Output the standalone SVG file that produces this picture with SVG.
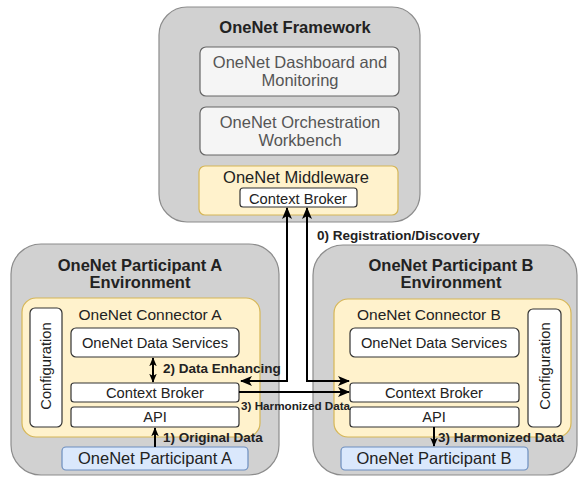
<svg xmlns="http://www.w3.org/2000/svg" width="581" height="479" viewBox="0 0 581 479">
<defs>
<style>
text{font-family:"Liberation Sans",Arial,sans-serif;fill:#222;text-anchor:middle}
.env{fill:#d1d1d1;stroke:#8c8c8c;stroke-width:1.2}
.light{fill:#f5f5f5;stroke:#666;stroke-width:1.2}
.yel{fill:#fff2cc;stroke:#d6b656;stroke-width:1.2}
.wht{fill:#fff;stroke:#333;stroke-width:1.2}
.blu{fill:#dae8fc;stroke:#6c8ebf;stroke-width:1.2}
.title{font-weight:bold;font-size:16.5px}
.big{font-size:16.5px}
.mid{font-size:14.7px}
.lbl{font-weight:bold;font-size:13.5px;text-anchor:start}
.gray{fill:#555}
.line{fill:none;stroke:#000;stroke-width:2}
</style>
<marker id="arr" viewBox="0 0 12 10" refX="11" refY="5" markerWidth="12" markerHeight="10" markerUnits="userSpaceOnUse" orient="auto-start-reverse">
<path d="M0,0 L12,5 L0,10 L3,5 Z" fill="#000"/>
</marker>
<marker id="arrs" viewBox="0 0 12 10" refX="11" refY="5" markerWidth="9" markerHeight="8" markerUnits="userSpaceOnUse" orient="auto-start-reverse">
<path d="M0,0 L12,5 L0,10 L3,5 Z" fill="#000"/>
</marker>
</defs>

<g id="framework">
<rect class="env" x="159" y="7" width="261" height="215" rx="28"/>
<text class="title" x="295" y="32.8">OneNet Framework</text>
</g>
<g id="dashboard">
<rect class="light" x="200" y="47" width="199" height="49" rx="6"/>
<text class="big gray" x="300" y="67.8">OneNet Dashboard and</text>
<text class="big gray" x="300" y="85.8">Monitoring</text>
</g>
<g id="orchestration">
<rect class="light" x="200" y="107" width="199" height="48" rx="6"/>
<text class="big gray" x="300" y="127.8">OneNet Orchestration</text>
<text class="big gray" x="300" y="145.8">Workbench</text>
</g>
<g id="middleware">
<rect class="yel" x="199" y="166" width="199" height="49" rx="6"/>
<text class="big" x="296" y="182.8">OneNet Middleware</text>
</g>
<g id="mw-context-broker">
<rect class="wht" x="240" y="188" width="117" height="19" rx="3"/>
<text class="mid" x="298" y="204">Context Broker</text>
</g>

<g id="participant-a-env">
<rect class="env" x="11" y="244" width="268" height="231" rx="30"/>
<text class="title" x="140" y="270.8">OneNet Participant A</text>
<text class="title" x="140" y="287.8">Environment</text>
</g>
<g id="connector-a">
<rect class="yel" x="22" y="298" width="238" height="139" rx="14"/>
<text x="150" y="319.5" style="font-size:15.5px">OneNet Connector A</text>
</g>
<g id="config-a">
<rect class="wht" x="30" y="308" width="32" height="119" rx="5"/>
<text class="mid" transform="translate(51.2 366) rotate(-90)" x="0" y="0">Configuration</text>
</g>
<g id="data-services-a">
<rect class="wht" x="71" y="328" width="168" height="29" rx="5"/>
<text class="mid" x="155" y="348">OneNet Data Services</text>
</g>
<g id="context-broker-a">
<rect class="wht" x="71" y="383" width="168" height="19" rx="3"/>
<text class="mid" x="155" y="397.5">Context Broker</text>
</g>
<g id="api-a">
<rect class="wht" x="71" y="407" width="168" height="20" rx="3"/>
<text class="mid" x="155" y="422">API</text>
</g>
<g id="participant-a">
<rect class="blu" x="62" y="447" width="186" height="23" rx="4"/>
<text class="big" x="155" y="464.3">OneNet Participant A</text>
</g>

<g id="participant-b-env">
<rect class="env" x="313" y="245" width="264" height="230" rx="30"/>
<text class="title" x="451" y="270.8">OneNet Participant B</text>
<text class="title" x="451" y="287.8">Environment</text>
</g>
<g id="connector-b">
<rect class="yel" x="334" y="299" width="237" height="138" rx="14"/>
<text x="429" y="319.5" style="font-size:15.5px">OneNet Connector B</text>
</g>
<g id="config-b">
<rect class="wht" x="528" y="309" width="33" height="118" rx="5"/>
<text class="mid" transform="translate(549.7 366) rotate(-90)" x="0" y="0">Configuration</text>
</g>
<g id="data-services-b">
<rect class="wht" x="350" y="328" width="169" height="29" rx="5"/>
<text class="mid" x="434" y="348">OneNet Data Services</text>
</g>
<g id="context-broker-b">
<rect class="wht" x="350" y="383" width="169" height="19" rx="3"/>
<text class="mid" x="434" y="397.5">Context Broker</text>
</g>
<g id="api-b">
<rect class="wht" x="350" y="407" width="169" height="20" rx="3"/>
<text class="mid" x="434" y="422">API</text>
</g>
<g id="participant-b">
<rect class="blu" x="341" y="447" width="187" height="23" rx="4"/>
<text class="big" x="434" y="464.3">OneNet Participant B</text>
</g>

<g id="connectors">
<path class="line" d="M241,381 H287 V208" marker-start="url(#arr)" marker-end="url(#arr)"/>
<path class="line" d="M307,208 V381 H349" marker-start="url(#arr)" marker-end="url(#arr)"/>
<path class="line" d="M239,392 H349" marker-end="url(#arr)"/>
<path class="line" d="M153,358 V382" marker-start="url(#arrs)" marker-end="url(#arrs)"/>
<path class="line" d="M155,447 V428" marker-end="url(#arrs)"/>
<path class="line" d="M434,427 V446" marker-end="url(#arrs)"/>
<text class="lbl" x="317" y="239.7">0) Registration/Discovery</text>
<text class="lbl" x="163" y="372.8">2) Data Enhancing</text>
<text class="lbl" x="241" y="410" style="font-size:11.7px">3) Harmonized Data</text>
<text class="lbl" x="163" y="441.7">1) Original Data</text>
<text class="lbl" x="438" y="441.7">3) Harmonized Data</text>
</g>
</svg>
